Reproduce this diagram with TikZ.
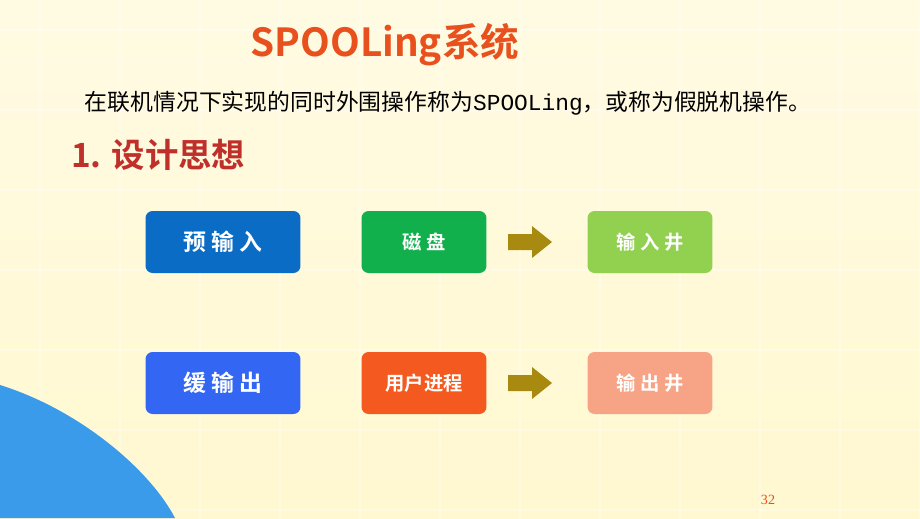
\documentclass[tikz,border=0pt]{standalone}
\usepackage{fontspec}
\setmainfont{Liberation Serif}
\newfontfamily\cjk{Noto Sans CJK SC}
\newfontfamily\cjkb{Noto Sans CJK SC Bold}
\newfontfamily\monof{Liberation Mono}
\usetikzlibrary{shapes.arrows,shadows}
\definecolor{bgyel}{HTML}{FFF8D0}
\definecolor{titlered}{HTML}{E8501E}
\definecolor{headred}{HTML}{C0302A}
\definecolor{boxblue}{HTML}{0A6CC4}
\definecolor{boxblueb}{HTML}{3366F2}
\definecolor{boxgreen}{HTML}{12B04C}
\definecolor{boxlgreen}{HTML}{92D050}
\definecolor{boxorange}{HTML}{F45A20}
\definecolor{boxsalmon}{HTML}{F7A486}
\definecolor{arrowgold}{HTML}{A88A10}
\definecolor{cornerblue}{HTML}{3A9BEA}
\begin{document}
\begin{tikzpicture}[x=0.02cm,y=-0.02cm]
\tikzset{
  stage/.style={rounded corners=4pt, text=white, font=\cjkb\fontsize{11}{11}\selectfont,
    minimum height=1.24cm, inner sep=0pt},
  bigstage/.style={stage, minimum width=3.1cm, font=\cjkb\fontsize{13}{13}\selectfont},
  smallstage/.style={stage, minimum width=2.5cm},
}
\newcommand\fatarrow[1]{\fill[arrowgold,shift={#1}] (-22,-8) -- (2,-8) -- (2,-16) -- (22,0) -- (2,16) -- (2,8) -- (-22,8) -- cycle;}
\useasboundingbox (0,0) rectangle (920,518);
\shade[top color=bgyel!60!white, bottom color=bgyel] (0,0) rectangle (920,518);
% faint grid
\foreach \i in {0,...,11} \draw[white, line width=1pt, opacity=0.35] (\i*80+40,0) -- (\i*80+40,518);
\foreach \j in {0,...,6} \draw[white, line width=1pt, opacity=0.35] (0,\j*80+30) -- (920,\j*80+30);
% corner
\fill[cornerblue] (0,385) .. controls (80,410) and (150,470) .. (175,518) -- (0,518) -- cycle;

\node (title) at (385,45) {\cjkb\fontsize{22}{22}\selectfont\color{titlered}SPOOLing系统};
\node (intro) at (448,103) {\cjk\fontsize{13}{13}\selectfont 在联机情况下实现的同时外围操作称为{\monof SPOOLing}，或称为假脱机操作。};
\node[anchor=west] (head) at (65,155) {\cjkb\fontsize{19}{19}\selectfont\color{headred}1. 设计思想};

\node[bigstage, fill=boxblue] (pre) at (223,242) {预 输 入};
\node[smallstage, fill=boxgreen] (disk) at (424,242) {磁 盘};
\node[smallstage, fill=boxlgreen] (inwell) at (650,242) {输 入 井};
\fatarrow{(530,242)}

\node[bigstage, fill=boxblueb] (buf) at (223,383) {缓 输 出};
\node[smallstage, fill=boxorange] (proc) at (424,383) {用户进程};
\node[smallstage, fill=boxsalmon] (outwell) at (650,383) {输 出 井};
\fatarrow{(530,383)}

\node (page) at (768,500) {\fontsize{8}{8}\selectfont\color{titlered}32};
\end{tikzpicture}
\end{document}
